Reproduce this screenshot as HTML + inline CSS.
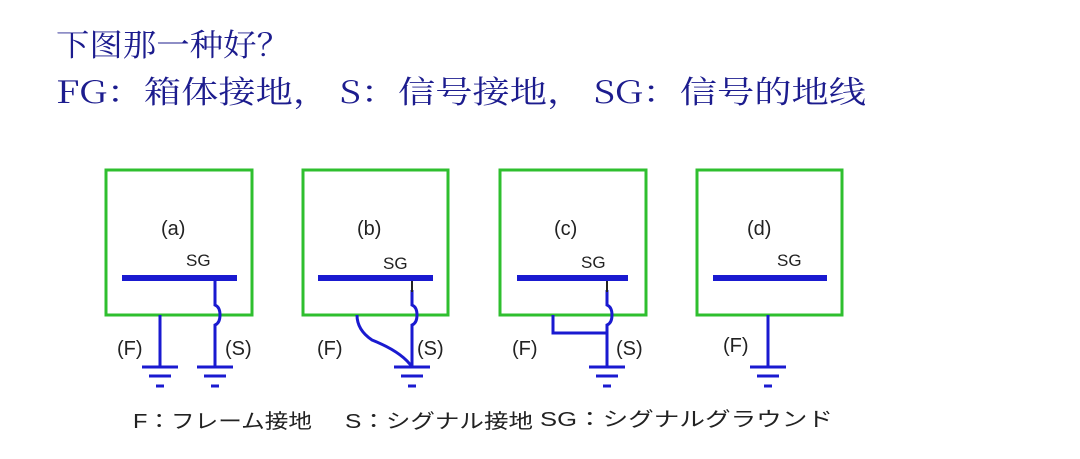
<!DOCTYPE html>
<html><head><meta charset="utf-8"><style>
html,body{margin:0;padding:0;background:#fff;}
svg{display:block;}
</style></head><body>
<svg width="1080" height="459" viewBox="0 0 1080 459" xmlns="http://www.w3.org/2000/svg">
<g font-family="'Noto Serif CJK SC',serif" fill="#1c1c8e" font-size="31">
<text x="56" y="56" textLength="234" lengthAdjust="spacingAndGlyphs">下图那一种好？</text>
<text x="56" y="103" textLength="810" lengthAdjust="spacingAndGlyphs">FG：箱体接地，  S：信号接地，    SG：信号的地线</text>
</g>
<g fill="none" stroke="#2fbf2f" stroke-width="3">
<rect x="106" y="170" width="146" height="145"/>
<rect x="303" y="170" width="145" height="145"/>
<rect x="500" y="170" width="146" height="145"/>
<rect x="697" y="170" width="145" height="145"/>
</g>
<g stroke="#1a1ad0" stroke-width="6">
<line x1="122" y1="278" x2="237" y2="278"/>
<line x1="318" y1="278" x2="433" y2="278"/>
<line x1="517" y1="278" x2="628" y2="278"/>
<line x1="713" y1="278" x2="827" y2="278"/>
</g>
<g fill="none" stroke="#1a1ad0" stroke-width="3">
<path d="M215 280 V305 q5 2 5 10 q0 8 -5 10 V367"/>
<line x1="160" y1="315" x2="160" y2="367"/>
<path d="M412 290 V305 q5 2 5 10 q0 8 -5 10 V367"/>
<path d="M357 315 q0 15 15 25 q30 12 40 27"/>
<path d="M607 290 V305 q5 2 5 10 q0 8 -5 10 V367"/>
<path d="M553 315 V333 H607"/>
<line x1="768" y1="315" x2="768" y2="367"/>
<path d="M142 367 H178 M149 376 H171 M156 386 H164"/>
<path d="M197 367 H233 M204 376 H226 M211 386 H219"/>
<path d="M394 367 H430 M401 376 H423 M408 386 H416"/>
<path d="M589 367 H625 M596 376 H618 M603 386 H611"/>
<path d="M750 367 H786 M757 376 H779 M764 386 H772"/>
</g>
<g stroke="#222" stroke-width="2">
<line x1="412" y1="281" x2="412" y2="292"/>
<line x1="607" y1="281" x2="607" y2="292"/>
</g>
<g font-family="'Liberation Sans','Noto Sans CJK JP',sans-serif" fill="#222" font-size="20">
<text x="161" y="235">(a)</text>
<text x="357" y="235">(b)</text>
<text x="554" y="235">(c)</text>
<text x="747" y="235">(d)</text>
<g font-size="17">
<text x="186" y="266">SG</text>
<text x="383" y="269">SG</text>
<text x="581" y="268">SG</text>
<text x="777" y="266">SG</text>
</g>
<text x="117" y="355">(F)</text>
<text x="225" y="355">(S)</text>
<text x="317" y="355">(F)</text>
<text x="417" y="355">(S)</text>
<text x="512" y="355">(F)</text>
<text x="616" y="355">(S)</text>
<text x="723" y="352">(F)</text>
<text x="133" y="428" textLength="179" lengthAdjust="spacingAndGlyphs">F：フレーム接地</text>
<text x="345" y="428" textLength="188" lengthAdjust="spacingAndGlyphs">S：シグナル接地</text>
<text x="540" y="426" textLength="293" lengthAdjust="spacingAndGlyphs">SG：シグナルグラウンド</text>
</g>
</svg>
</body></html>
